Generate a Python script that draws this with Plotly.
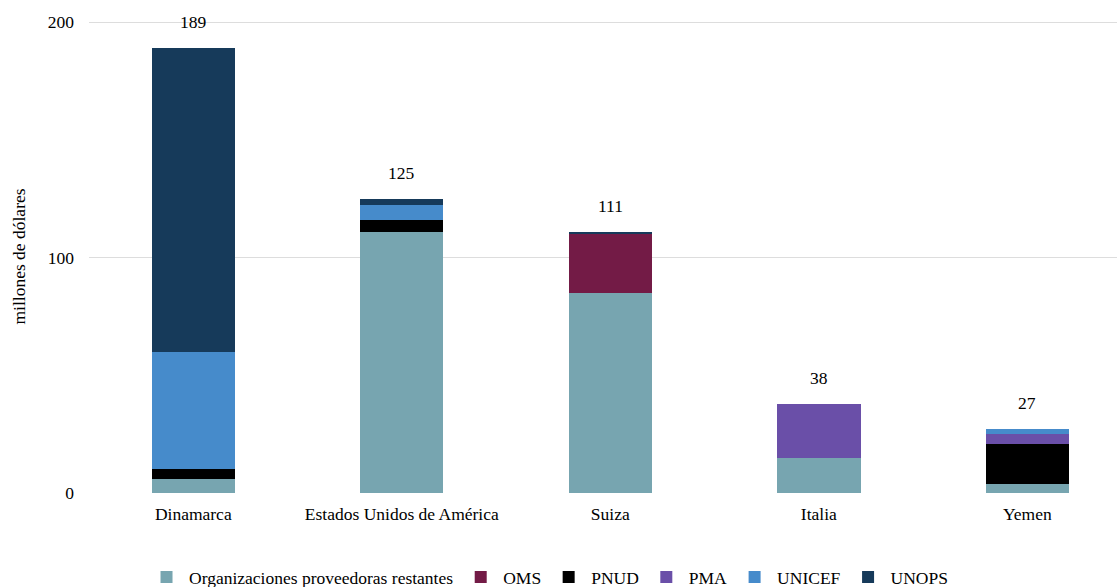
import plotly.graph_objects as go

countries = ["Dinamarca", "Estados Unidos de América", "Suiza", "Italia", "Yemen"]
series_names = ["Organizaciones proveedoras restantes", "OMS", "PNUD", "PMA", "UNICEF", "UNOPS"]
restantes = [6, 111, 85, 15, 4]
oms = [0, 0, 25, 0, 0]
pnud = [4, 5, 0, 0, 17]
pma = [0, 0, 0, 23, 4]
unicef = [50, 6.5, 0, 0, 2]
unops = [129, 2.5, 1, 0, 0]
totals = [189, 125, 111, 38, 27]
colors = ["#77A5B0", "#731B46", "#000000", "#6A4FA8", "#468BCB", "#163A5A"]

values = [restantes, oms, pnud, pma, unicef, unops]

FS = 17.5

fig = go.Figure()
for name, vals, col in zip(series_names, values, colors):
    fig.add_trace(go.Bar(
        name=name, x=countries, y=vals, marker_color=col,
        marker_line_width=0, width=0.4,
    ))

for c, t in zip(countries, totals):
    fig.add_annotation(x=c, y=t, text=str(t), showarrow=False,
                       yanchor="bottom", yshift=14,
                       font=dict(size=FS, color="#000000"))

fig.update_layout(
    barmode="stack",
    width=1117, height=587,
    margin=dict(l=89, r=0, t=20, b=94, autoexpand=False),
    plot_bgcolor="white", paper_bgcolor="white",
    font=dict(family="Liberation Serif", size=FS, color="#000000"),
    showlegend=True,
    legend=dict(orientation="h", x=0.447, xanchor="center", y=-0.178, yanchor="middle",
                font=dict(size=FS), traceorder="normal", itemwidth=35),
    xaxis=dict(range=[-0.5, 4.43], showline=False, ticks="", tickfont=dict(size=FS),
               ticklabelstandoff=8),
    yaxis=dict(range=[0, 201], tickvals=[0, 100, 200], showgrid=True,
               gridcolor="#DDDDDD", gridwidth=1, zeroline=False,
               title=dict(text="millones de dólares", font=dict(size=FS), standoff=17),
               tickfont=dict(size=FS), ticks="", ticklabelstandoff=14),
)

fig.write_html("out.html", config={"displayModeBar": False},
               post_script="document.body.style.margin='0';")
